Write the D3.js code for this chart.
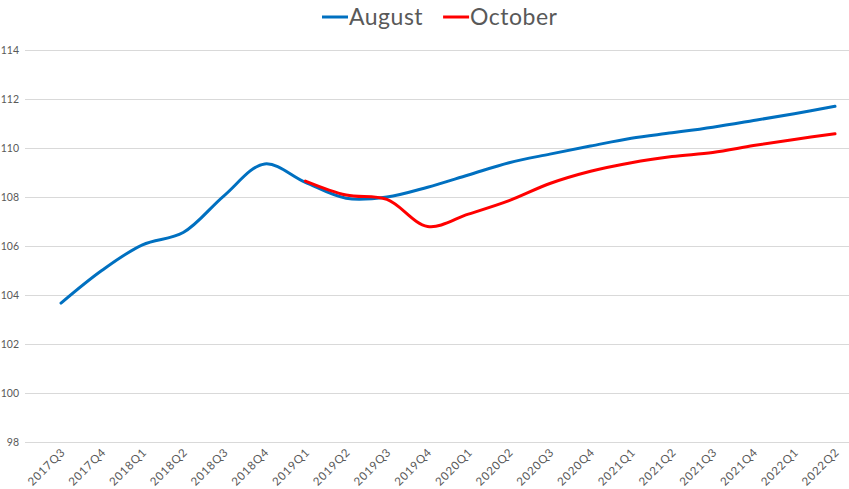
<!DOCTYPE html>
<html>
<head>
<meta charset="utf-8">
<script src="https://cdn.jsdelivr.net/npm/d3@7"></script>
<style>
  body { margin: 0; background: #fff; }
  svg { display: block; font-family: Lato, "Open Sans", sans-serif; }
</style>
</head>
<body>
<svg id="chart" width="849" height="489"></svg>
<script>
const quarters = ["2017Q3", "2017Q4", "2018Q1", "2018Q2", "2018Q3", "2018Q4",
    "2019Q1", "2019Q2", "2019Q3", "2019Q4", "2020Q1", "2020Q2", "2020Q3", "2020Q4",
    "2021Q1", "2021Q2", "2021Q3", "2021Q4", "2022Q1", "2022Q2"];

const august = [103.67, 105.0, 106.05, 106.55, 108.05, 109.35, 108.6, 107.95, 108.0, 108.4,
    108.9, 109.4, 109.75, 110.08, 110.4, 110.62, 110.85, 111.12, 111.4, 111.7];

// October forecast starts at 2019Q1
const october = [null, null, null, null, null, null, 108.65, 108.08, 107.9, 106.8,
    107.3, 107.85, 108.55, 109.05, 109.4, 109.65, 109.82, 110.1, 110.35, 110.58];

const yTicks = [98, 100, 102, 104, 106, 108, 110, 112, 114];

const seriesNames = ["August", "October"];
const seriesColors = ["#0070C0", "#FF0000"];

const svg = d3.select("#chart");

const x = d3.scalePoint()
    .domain(quarters)
    .range([61, 835]);

const y = d3.scaleLinear()
    .domain([98, 114])
    .range([442, 50]);

// gridlines
svg.append("g")
    .selectAll("line")
    .data(yTicks)
    .enter()
    .append("line")
    .attr("x1", 25)
    .attr("x2", 849)
    .attr("y1", d => Math.round(y(d)) + 0.5)
    .attr("y2", d => Math.round(y(d)) + 0.5)
    .attr("stroke", "#d9d9d9")
    .attr("stroke-width", 1);

// y labels
svg.append("g")
    .selectAll("text")
    .data(yTicks)
    .enter()
    .append("text")
    .attr("x", 19)
    .attr("y", d => y(d) + 4)
    .attr("text-anchor", "end")
    .attr("font-size", 10.5)
    .attr("fill", "#595959")
    .text(d => d);

// x labels
svg.append("g")
    .selectAll("text")
    .data(quarters)
    .enter()
    .append("text")
    .attr("transform", d => `translate(${x(d) + 5},${453}) rotate(-45)`)
    .attr("text-anchor", "end")
    .attr("font-size", 11.5)
    .attr("letter-spacing", 0.8)
    .attr("fill", "#595959")
    .text(d => d);

const line = d3.line()
    .defined(d => d.v != null)
    .x(d => x(d.q))
    .y(d => y(d.v))
    .curve(d3.curveCatmullRom.alpha(0.5));

[august, october].forEach((vals, i) => {
    const pts = vals.map((v, j) => ({ q: quarters[j], v: v }));
    svg.append("path")
        .datum(pts)
        .attr("d", line)
        .attr("fill", "none")
        .attr("stroke", seriesColors[i])
        .attr("stroke-width", 3)
        .attr("stroke-linecap", "round");
});

// legend
const legend = svg.append("g").attr("transform", "translate(322,17)");
let lx = 0;
seriesNames.forEach((name, i) => {
    legend.append("line")
        .attr("x1", lx)
        .attr("x2", lx + 26)
        .attr("y1", 0)
        .attr("y2", 0)
        .attr("stroke", seriesColors[i])
        .attr("stroke-width", 3);
    const t = legend.append("text")
        .attr("x", lx + 27)
        .attr("y", 8)
        .attr("font-size", 23)
        .attr("letter-spacing", 0.5)
        .attr("fill", "#595959")
        .text(name);
    lx += 27 + t.node().getComputedTextLength() + 20;
});
</script>
</body>
</html>
